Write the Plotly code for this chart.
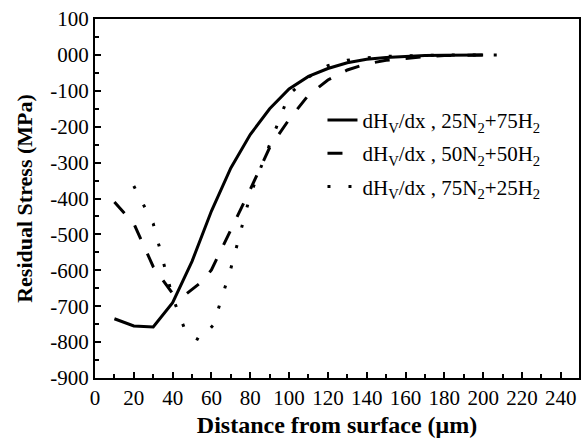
import plotly.graph_objects as go

x_a = [10, 20, 30, 40, 50, 60, 70, 80, 90, 100, 110, 120, 130, 140, 150, 160, 170, 180, 190, 200]
y_a = [-735, -755, -758, -690, -575, -435, -315, -222, -150, -95, -60, -38, -22, -12, -7, -4, -2, -1, 0, 0]

x_b = [10, 20, 30, 40, 47, 55, 60, 70, 80, 90, 100, 110, 120, 130, 140, 150, 160, 170, 180, 190, 200]
y_b = [-410, -470, -590, -665, -666, -632, -599, -488, -375, -258, -180, -112, -70, -42, -25, -15, -9, -5, -2, -1, 0]

x_c = [20, 30, 40, 47, 54, 61, 70, 80, 90, 100, 110, 120, 130, 140, 150, 160, 170, 180, 190, 200, 210]
y_c = [-365, -470, -675, -775, -795, -752, -595, -390, -250, -110, -62, -30, -15, -8, -4, -2, -1, 0, 0, 0, 0]

names = ["dH<sub>V</sub>/dx , 25N<sub>2</sub>+75H<sub>2</sub>",
         "dH<sub>V</sub>/dx , 50N<sub>2</sub>+50H<sub>2</sub>",
         "dH<sub>V</sub>/dx , 75N<sub>2</sub>+25H<sub>2</sub>"]

x_ticks = list(range(0, 241, 20))
y_ticks = list(range(-900, 101, 100))
y_ticktext = ["-900", "-800", "-700", "-600", "-500", "-400", "-300", "-200", "-100", "000", "100"]

fig = go.Figure()
fig.add_trace(go.Scatter(x=x_a, y=y_a, mode="lines", name=names[0], legendgroup="a",
                         line=dict(color="black", width=3)))
fig.add_trace(go.Scatter(x=x_b, y=y_b, mode="lines", name=names[1], legendgroup="b",
                         line=dict(color="black", width=3, dash="15px,16px")))
fig.add_trace(go.Scatter(x=x_c, y=y_c, mode="lines", name=names[2], legendgroup="c",
                         line=dict(color="black", width=3, dash="3px,18px")))

font_family = "Liberation Serif, Times New Roman, serif"

fig.update_layout(
    width=584, height=439,
    margin=dict(l=95, r=5, t=19, b=61),
    paper_bgcolor="white", plot_bgcolor="white",
    font=dict(family=font_family, size=21, color="black"),
    showlegend=True,
    legend=dict(x=0.47, y=0.775, xanchor="left", yanchor="top", tracegroupgap=3,
                bgcolor="rgba(0,0,0,0)", font=dict(size=21, family=font_family)),
    xaxis=dict(range=[0, 249.4], tickvals=x_ticks, ticks="inside", ticklen=6, tickwidth=2,
               tickcolor="black", showline=True, linewidth=2, linecolor="black", mirror=True,
               showgrid=False, zeroline=False, automargin=False,
               minor=dict(dtick=10, ticks="inside", ticklen=4, tickwidth=2, tickcolor="black"),
               tickfont=dict(size=21),
               title=dict(text="<b>Distance from surface (μm)</b>", font=dict(size=24), standoff=7)),
    yaxis=dict(range=[-900, 100], tickvals=y_ticks, ticktext=y_ticktext, ticks="inside", ticklen=6,
               tickwidth=2, tickcolor="black", showline=True, linewidth=2, linecolor="black",
               mirror=True, showgrid=False, zeroline=False, automargin=False,
               minor=dict(dtick=50, ticks="inside", ticklen=4, tickwidth=2, tickcolor="black"),
               tickfont=dict(size=21),
               title=dict(text="<b>Residual Stress (MPa)</b>", font=dict(size=22), standoff=12)),
)

fig.write_html("out.html", config={"displayModeBar": False},
               post_script="document.body.style.margin='0';document.body.style.overflow='hidden';")
